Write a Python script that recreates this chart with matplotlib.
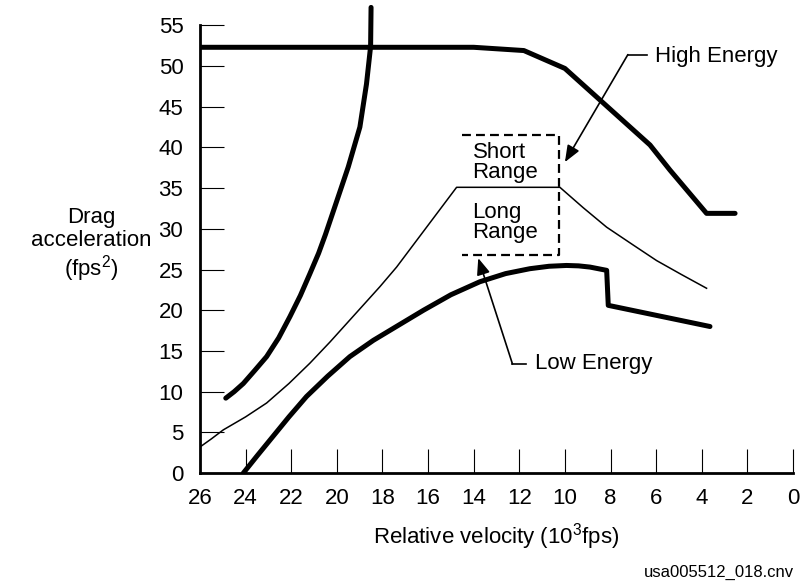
import matplotlib.pyplot as plt

plt.rcParams['font.family'] = ['Liberation Sans', 'DejaVu Sans']
plt.rcParams['mathtext.fontset'] = 'custom'
plt.rcParams['mathtext.rm'] = 'Liberation Sans'
plt.rcParams['mathtext.it'] = 'Liberation Sans'

# high energy limit (thick, top)
high_v = [26, 14, 11.8, 10, 6.27, 5.39, 3.79, 2.54]
high_d = [52.3, 52.3, 51.9, 49.7, 40.3, 37.2, 31.9, 31.9]

# steep thick curve on the left
steep_v = [24.87, 24.5, 24.1, 23.6, 23.08, 22.55, 22.06, 21.6, 21.18, 20.8, 20.5, 20.09,
           19.5, 18.99, 18.7, 18.52, 18.5]
steep_d = [9.2, 10.0, 11.0, 12.6, 14.3, 16.6, 19.2, 21.8, 24.5, 27.0, 29.3, 32.7,
           37.6, 42.5, 47.8, 52.4, 57.2]

# reference profile (thin)
mid_v = [26, 25.5, 24.98, 24.0, 23.08, 22.1, 21.18, 20.3, 19.43, 18.11, 17.38, 14.75,
         10.22, 9.2, 8.17, 7.0, 5.98, 4.9, 3.79]
mid_d = [3.2, 4.2, 5.3, 6.9, 8.6, 11.0, 13.5, 16.1, 18.8, 22.9, 25.3, 35.1,
         35.1, 32.6, 30.2, 28.0, 26.1, 24.4, 22.7]

# low energy limit (thick, bottom)
low_v = [24.1, 23.5, 22.8, 22.1, 21.33, 20.4, 19.43, 18.4, 17.39, 16.2, 15.0, 13.73,
         12.6, 11.54, 10.7, 9.93, 9.4, 8.9, 8.17, 8.1, 3.64]
low_d = [0, 2.1, 4.5, 6.9, 9.4, 11.9, 14.3, 16.3, 18.0, 20.0, 21.9, 23.5,
         24.5, 25.1, 25.4, 25.5, 25.45, 25.3, 24.9, 20.6, 18.0]

# dashed box (no left side)
box_v = [14.5, 10.25, 10.25, 14.5]
box_d = [41.5, 41.5, 26.8, 26.8]

xticks = list(range(26, -1, -2))
yticks = list(range(0, 56, 5))

fs = 16
fig = plt.figure(figsize=(8, 5.84), dpi=100)
ax = fig.add_axes([0.25, 0.19, 0.74125, 0.8015])

thick = dict(color='black', lw=3.6, solid_capstyle='round', solid_joinstyle='round')
ax.plot(high_v, high_d, **thick)
ax.plot(steep_v, steep_d, **thick)
ax.plot(mid_v, mid_d, color='black', lw=1.1)
ax.plot(low_v, low_d, **thick)
ax.plot(box_v, box_d, color='black', lw=1.6, ls=(0, (4, 2.3)))

ax.text(14.05, 38.1, 'Short\nRange', ha='left', va='center', fontsize=fs, linespacing=0.95)
ax.text(14.05, 30.8, 'Long\nRange', ha='left', va='center', fontsize=fs, linespacing=0.95)

# leaders
arrow = dict(arrowstyle='-|>,head_length=1.0,head_width=0.4', color='black', lw=1.2,
             shrinkA=0, shrinkB=0)
ax.plot([6.4, 7.24], [51.4, 51.4], color='black', lw=1.2)
ax.annotate('', xy=(10.0, 38.2), xytext=(7.24, 51.4), arrowprops=arrow)
ax.text(6.05, 51.2, 'High Energy', ha='left', va='center', fontsize=fs)

ax.plot([11.7, 12.3], [13.4, 13.4], color='black', lw=1.2)
ax.annotate('', xy=(13.8, 26.4), xytext=(12.3, 13.4), arrowprops=arrow)
ax.text(11.3, 13.5, 'Low Energy', ha='left', va='center', fontsize=fs)

ax.set_xlim(26, 0)
ax.set_ylim(0, 57.5)
ax.set_xticks(xticks)
ax.set_yticks(yticks)
ax.tick_params(direction='in', length=17, width=0.8, labelsize=fs)
ax.tick_params(axis='y', pad=12)
ax.tick_params(axis='x', pad=11)
ax.spines['top'].set_visible(False)
ax.spines['right'].set_visible(False)
ax.spines['left'].set_bounds(0, 55)
ax.spines['left'].set_linewidth(2)
ax.spines['bottom'].set_linewidth(2)

fig.text(0.6206, 0.0805, r'Relative velocity (10$^3$fps)', ha='center', va='center', fontsize=fs)
fig.text(0.114, 0.579, 'Drag\nacceleration\n(fps$^2$)', ha='center', va='center', fontsize=fs,
         linespacing=1.1)
fig.text(0.992, 0.019, 'usa005512_018.cnv', ha='right', va='center', fontsize=12)

fig.savefig('out.png', dpi=100)
